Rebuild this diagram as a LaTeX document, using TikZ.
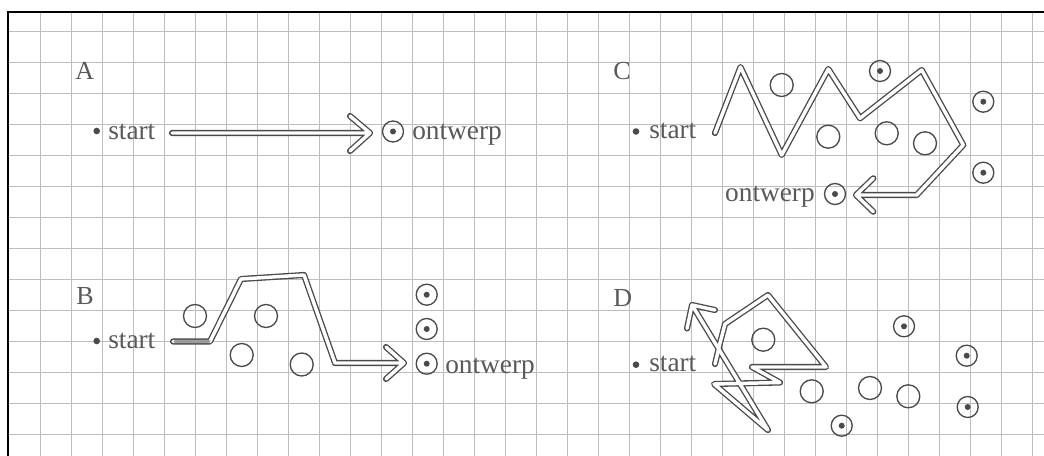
\documentclass[tikz,border=0pt]{standalone}
\usepackage{fontspec}
\setmainfont{Liberation Serif}
\usepackage{xcolor}
\definecolor{ink}{HTML}{4A4A4A}
\definecolor{txt}{HTML}{595959}
\definecolor{gridc}{HTML}{BDBDBD}
\tikzset{
 route/.style={draw=ink, line width=1pt, double=white, double distance=2.6pt, line cap=round, line join=round},
 ring/.style={draw=ink, line width=1pt},
 lbl/.style={text=txt, inner sep=0pt, font=\fontsize{20.5}{24}\selectfont},
 big/.style={text=txt, inner sep=0pt, font=\fontsize{19.5}{23}\selectfont},
 tgt/.pic={\draw[ring] (0,0) circle[radius=10.5]; \fill[ink] (0,0) circle[radius=3];},
 hole/.pic={\draw[ring] (0,0) circle[radius=11.5];},
 sdot/.pic={\fill[ink] (0,0) circle[radius=3.3];},
}
\begin{document}
\begin{tikzpicture}[x=0.75pt,y=-0.75pt]
\useasboundingbox (0,0) rectangle (1044,456);
\fill[white] (0,0) rectangle (1044,456);
% grid
\foreach \k in {0,...,32} \draw[gridc, line width=0.6pt] ({40+31*\k},12) -- ({40+31*\k},456);
\foreach \j in {0,...,13} \draw[gridc, line width=0.6pt] (8,{31+31*\j}) -- (1044,{31+31*\j});
\draw[black, line width=1.1pt] (8,456) -- (8,12) -- (1044,12);

% ---------- A ----------
\node[big, anchor=base west] (labA) at (75,80) {A};
\pic at (96.7,131) {sdot};
\node[lbl, anchor=base west] (startA) at (108,139.5) {start};
\coordinate (a0) at (172,133);
\coordinate (a1) at (370,133);
\draw[route] (a0) -- (a1) (350,116) -- (a1) -- (350,151);
\pic at (393,131.5) {tgt};
\node[lbl, anchor=base west] (ontA) at (412,140) {ontwerp};

% ---------- B ----------
\node[big, anchor=base west] (labB) at (76,304) {B};
\pic at (96.7,341) {sdot};
\node[lbl, anchor=base west] (startB) at (108,348) {start};
\coordinate (b0) at (173,341.5);
\coordinate (b1) at (404,363);
\draw[route] (b0) -- (210,341.5) -- (241,279) -- (304,275) -- (335,363) -- (b1) (386,347) -- (b1) -- (386,379);
\draw[ink!55, line width=2.4pt, line cap=round] (175,341.5) -- (209,341.5);
\foreach \p in {(195,316),(266,316),(241.7,355),(301.7,364.5)} \pic at \p {hole};
\foreach \p in {(426.7,294.7),(426.7,329),(426.7,363.7)} \pic at \p {tgt};
\node[lbl, anchor=base west] (ontB) at (445,373) {ontwerp};

% ---------- C ----------
\node[big, anchor=base west] (labC) at (613,80) {C};
\pic at (636,131.5) {sdot};
\node[lbl, anchor=base west] (startC) at (649,138.5) {start};
\coordinate (c0) at (715,133);
\coordinate (c1) at (856,195);
\draw[route] (c0) -- (740.5,67) -- (781.7,155) -- (828.3,69) -- (860,118.3) -- (921.7,70) -- (963.3,145) -- (916.7,195) -- (c1) (873.3,178.3) -- (c1) -- (873.3,211.7);
\foreach \p in {(781.7,85),(828.3,136.7),(886.7,133.3),(925,143.3)} \pic at \p {hole};
\foreach \p in {(880,71),(983.3,101.7),(983.3,172.7),(835,194)} \pic at \p {tgt};
\node[lbl, anchor=base east] (ontC) at (815,201.5) {ontwerp};

% ---------- D ----------
\node[big, anchor=base west] (labD) at (613,306) {D};
\pic at (636,364.7) {sdot};
\node[lbl, anchor=base west] (startD) at (649,371.5) {start};
\coordinate (d0) at (715,364);
\coordinate (d1) at (692,305);
\draw[route] (d0) -- (720,343) -- (725,324) -- (768,295) -- (826,367) -- (752,367) -- (780,382.5) -- (714,384) -- (768,430) -- (d1) (687,328.5) -- (d1) -- (715,310);
\foreach \p in {(763.3,339.7),(811.7,391.3),(870,388),(908.3,396.3)} \pic at \p {hole};
\foreach \p in {(904,326.3),(966.7,355.7),(967.7,407),(841.7,425.7)} \pic at \p {tgt};
\end{tikzpicture}
\end{document}
